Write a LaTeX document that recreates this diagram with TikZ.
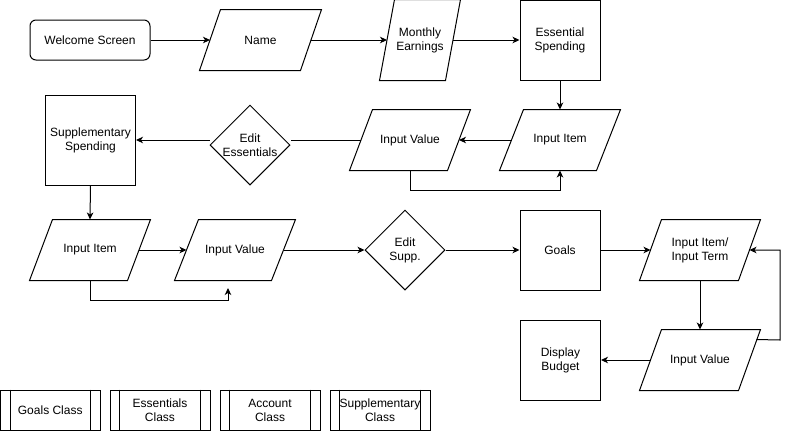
\documentclass[tikz,border=0pt]{standalone}
\usepackage{fontspec}
\setmainfont{Liberation Sans}
\usetikzlibrary{shapes.geometric,arrows.meta,calc}

\tikzset{
  base/.style={draw, line width=1pt, inner sep=0pt, align=center,
    font=\fontsize{12}{14}\selectfont},
  startbox/.style={base, rectangle, rounded corners=6pt, minimum width=120pt, minimum height=40pt},
  procbox/.style={base, rectangle, minimum width=80pt, minimum height=80pt},
  tallbox/.style={base, rectangle, minimum width=90pt, minimum height=90pt},
  iobox/.style={base, draw=none, rectangle, minimum width=120pt, minimum height=60pt},
  narrowio/.style={base, draw=none, rectangle, minimum width=80pt, minimum height=80pt},
  decision/.style={base, diamond, minimum width=80pt, minimum height=80pt},
  classbox/.style={base, rectangle, minimum width=100pt, minimum height=40pt},
  flow/.style={line width=1pt, -{Stealth[length=7pt,width=6.5pt,inset=2pt]}},
  link/.style={line width=1pt, line join=miter}
}

% outline of an input/output box: #1 node name, #2 horizontal slant
\newcommand{\ioframe}[2]{%
  \draw[link] (#1.south west) -- ([xshift=#2]#1.north west) -- (#1.north east)
    -- ([xshift=-#2]#1.south east) -- cycle;}

% inner side bars of a predefined-process box
\newcommand{\classlines}[1]{%
  \draw[link] ([xshift=10pt]#1.north west) -- ([xshift=10pt]#1.south west);
  \draw[link] ([xshift=-10pt]#1.north east) -- ([xshift=-10pt]#1.south east);}

\begin{document}
\begin{tikzpicture}[x=1pt, y=-1pt]
  \fill[white] (0,0) rectangle (790,432);
  \useasboundingbox (0,0) rectangle (790,432);

  % first row
  \node[startbox] (welcome) at (90,40) {Welcome Screen};
  \node[iobox, minimum width=121pt] (name) at (260.5,40) {Name};
  \node[narrowio] (monthly) at (420,40) {Monthly\\Earnings};
  \node[procbox] (essential) at (560,40) {Essential\\Spending};

  % second row
  \node[iobox] (item1) at (560,140) {Input Item};
  \node[iobox] (value1) at (410,140) {Input Value};
  \node[decision] (editE) at (250,145) {Edit\\Essentials};
  \node[tallbox] (supp) at (90.5,140) {Supplementary\\Spending};

  % third row
  \node[iobox] (item2) at (90,250) {Input Item};
  \node[iobox] (value2) at (235,250) {Input Value};
  \node[decision] (editS) at (405,250) {Edit\\Supp.};
  \node[procbox] (goals) at (560,250) {Goals};
  \node[iobox] (item3) at (700,250) {Input Item/\\Input Term};

  % fourth row
  \node[iobox] (value3) at (700,360) {Input Value};
  \node[procbox] (display) at (560.5,360) {Display\\Budget};

  % parallelogram outlines
  \ioframe{name}{21pt}
  \ioframe{monthly}{15pt}
  \ioframe{item1}{24pt}
  \ioframe{value1}{23pt}
  \ioframe{item2}{23pt}
  \ioframe{value2}{24pt}
  \ioframe{item3}{22pt}
  \ioframe{value3}{22pt}

  % class boxes
  \node[classbox, minimum width=99.5pt] (goalsClass) at (50.25,410) {Goals Class};
  \node[classbox] (essClass) at (160,410) {Essentials\\Class};
  \node[classbox] (accClass) at (270,410) {Account\\Class};
  \node[classbox] (suppClass) at (380,410) {Supplementary\\Class};
  \classlines{goalsClass}
  \classlines{essClass}
  \classlines{accClass}
  \classlines{suppClass}

  % connectors
  \coordinate (loopTwoEnd) at (228,288);
  \coordinate (loopThreeStart) at ([xshift=-4pt,yshift=-10pt]value3.north east);

  \draw[flow] (welcome.east) -- ([xshift=10.5pt]name.west);
  \draw[flow] ([xshift=-10.5pt]name.east) -- ([xshift=7.5pt]monthly.west);
  \draw[flow] ([xshift=-7.5pt]monthly.east) -- (essential.west);
  \draw[flow] (essential.south) -- (item1.north);
  \draw[flow] ([xshift=12pt]item1.west) -- ([xshift=-11.5pt]value1.east);
  \draw[flow] (value1.south) -- ++(0,20) -| (item1.south);
  \draw[link] ([xshift=11.5pt]value1.west) -- (editE.east |- value1.west);
  \draw[flow] (editE.west |- supp.east) -- (supp.east);
  \draw[flow] (supp.south) -- (item2.north);
  \draw[flow] ([xshift=-11.5pt]item2.east) -- ([xshift=12pt]value2.west);
  \draw[flow] (item2.south) -- ++(0,20) -| (loopTwoEnd);
  \draw[flow] ([xshift=-12pt]value2.east) -- (editS.west);
  \draw[flow] (editS.east) -- (goals.west);
  \draw[flow] (goals.east) -- ([xshift=11pt]item3.west);
  \draw[flow] (item3.south) -- (value3.north);
  \draw[flow] ([xshift=11pt]value3.west) -- (display.east);
  \draw[flow] (loopThreeStart) -- (780,340) -- (780,250) -- ([xshift=-11pt]item3.east);
\end{tikzpicture}
\end{document}
